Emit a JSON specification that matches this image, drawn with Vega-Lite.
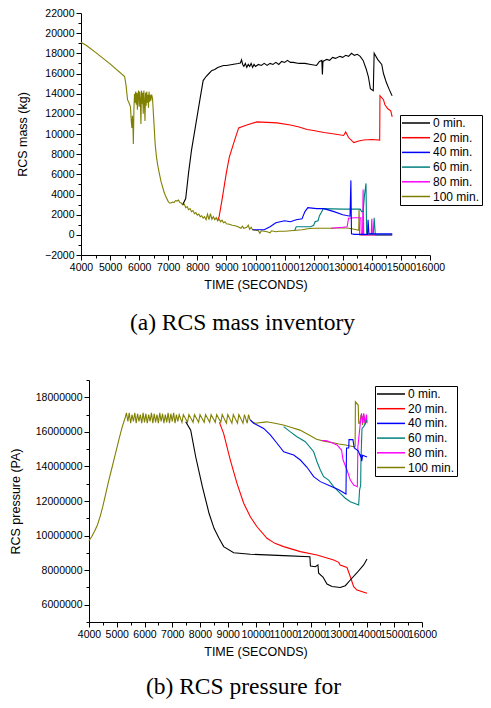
{
"$schema": "https://vega.github.io/schema/vega-lite/v6.json",
"background": "white",
"padding": {"left": 9, "top": 8, "right": 5, "bottom": 5},
"config": {
  "view": {"stroke": null},
  "font": "Liberation Sans",
  "axis": {"labelFont": "Liberation Sans", "labelFontSize": 10.5, "labelColor": "black", "titleFont": "Liberation Sans", "titleFontSize": 12.5, "titleFontWeight": "normal", "titleColor": "black", "domainColor": "black", "tickColor": "black", "labelPadding": 2, "grid": false, "labelFlush": false, "labelOverlap": false},
  "legend": {"labelFont": "Liberation Sans", "labelFontSize": 12, "labelColor": "black", "strokeColor": "black", "fillColor": "white", "padding": 2, "symbolType": "M-1.2,0H4.4", "symbolSize": 100, "symbolStrokeWidth": 1.5, "labelOffset": 19, "rowPadding": 2.7}
},
"datasets": {
"mass": [
{"s":"100 min.","t":4000,"v":19100},{"s":"100 min.","t":4200,"v":18750},{"s":"100 min.","t":4500,"v":18100},{"s":"100 min.","t":5000,"v":16950},{"s":"100 min.","t":5500,"v":15700},{"s":"100 min.","t":5550,"v":14800},{"s":"100 min.","t":5600,"v":13400},{"s":"100 min.","t":5650,"v":13100},{"s":"100 min.","t":5700,"v":12700},{"s":"100 min.","t":5730,"v":11200},{"s":"100 min.","t":5750,"v":10600},{"s":"100 min.","t":5770,"v":11800},{"s":"100 min.","t":5790,"v":10400},{"s":"100 min.","t":5800,"v":9000},{"s":"100 min.","t":5820,"v":12500},{"s":"100 min.","t":5840,"v":14000},{"s":"100 min.","t":5860,"v":13100},{"s":"100 min.","t":5880,"v":14200},{"s":"100 min.","t":5900,"v":12900},{"s":"100 min.","t":5920,"v":14100},{"s":"100 min.","t":5940,"v":12400},{"s":"100 min.","t":5960,"v":13900},{"s":"100 min.","t":5980,"v":14300},{"s":"100 min.","t":6000,"v":12700},{"s":"100 min.","t":6020,"v":14200},{"s":"100 min.","t":6040,"v":13400},{"s":"100 min.","t":6060,"v":11000},{"s":"100 min.","t":6080,"v":14300},{"s":"100 min.","t":6100,"v":13000},{"s":"100 min.","t":6120,"v":14100},{"s":"100 min.","t":6140,"v":12000},{"s":"100 min.","t":6160,"v":14300},{"s":"100 min.","t":6180,"v":13200},{"s":"100 min.","t":6200,"v":11300},{"s":"100 min.","t":6220,"v":14100},{"s":"100 min.","t":6240,"v":12800},{"s":"100 min.","t":6260,"v":14200},{"s":"100 min.","t":6280,"v":13100},{"s":"100 min.","t":6300,"v":13900},{"s":"100 min.","t":6320,"v":12600},{"s":"100 min.","t":6340,"v":14200},{"s":"100 min.","t":6360,"v":13200},{"s":"100 min.","t":6380,"v":13900},{"s":"100 min.","t":6400,"v":13300},{"s":"100 min.","t":6430,"v":13900},{"s":"100 min.","t":6460,"v":13500},{"s":"100 min.","t":6500,"v":11500},{"s":"100 min.","t":6550,"v":9000},{"s":"100 min.","t":6600,"v":7600},{"s":"100 min.","t":6650,"v":6700},{"s":"100 min.","t":6700,"v":6000},{"s":"100 min.","t":6750,"v":5300},{"s":"100 min.","t":6800,"v":4800},{"s":"100 min.","t":6850,"v":4300},{"s":"100 min.","t":6900,"v":3900},{"s":"100 min.","t":6950,"v":3600},{"s":"100 min.","t":7000,"v":3300},{"s":"100 min.","t":7050,"v":3150},{"s":"100 min.","t":7100,"v":3150},{"s":"100 min.","t":7150,"v":3250},{"s":"100 min.","t":7200,"v":3200},{"s":"100 min.","t":7250,"v":3400},{"s":"100 min.","t":7300,"v":3350},{"s":"100 min.","t":7350,"v":3450},{"s":"100 min.","t":7400,"v":3200},{"s":"100 min.","t":7450,"v":3150},{"s":"100 min.","t":7500,"v":2950},{"s":"100 min.","t":7550,"v":3050},{"s":"100 min.","t":7600,"v":2700},{"s":"100 min.","t":7650,"v":2800},{"s":"100 min.","t":7700,"v":2500},{"s":"100 min.","t":7750,"v":2600},{"s":"100 min.","t":7800,"v":2300},{"s":"100 min.","t":7850,"v":2400},{"s":"100 min.","t":7900,"v":2100},{"s":"100 min.","t":7950,"v":2200},{"s":"100 min.","t":8000,"v":1950},{"s":"100 min.","t":8050,"v":2050},{"s":"100 min.","t":8100,"v":1800},{"s":"100 min.","t":8150,"v":1900},{"s":"100 min.","t":8200,"v":1650},{"s":"100 min.","t":8250,"v":1800},{"s":"100 min.","t":8300,"v":1500},{"s":"100 min.","t":8350,"v":2050},{"s":"100 min.","t":8400,"v":1500},{"s":"100 min.","t":8450,"v":2100},{"s":"100 min.","t":8500,"v":1550},{"s":"100 min.","t":8550,"v":1800},{"s":"100 min.","t":8600,"v":1500},{"s":"100 min.","t":8650,"v":1700},{"s":"100 min.","t":8700,"v":1400},{"s":"100 min.","t":8750,"v":1550},{"s":"100 min.","t":8800,"v":1300},{"s":"100 min.","t":8850,"v":1450},{"s":"100 min.","t":8900,"v":1200},{"s":"100 min.","t":8950,"v":1300},{"s":"100 min.","t":9000,"v":1100},{"s":"100 min.","t":9100,"v":1050},{"s":"100 min.","t":9200,"v":950},{"s":"100 min.","t":9300,"v":900},{"s":"100 min.","t":9400,"v":800},{"s":"100 min.","t":9500,"v":650},{"s":"100 min.","t":9550,"v":850},{"s":"100 min.","t":9600,"v":650},{"s":"100 min.","t":9700,"v":750},{"s":"100 min.","t":9750,"v":950},{"s":"100 min.","t":9800,"v":550},{"s":"100 min.","t":9850,"v":750},{"s":"100 min.","t":9900,"v":500},{"s":"100 min.","t":10000,"v":450},{"s":"100 min.","t":10100,"v":400},{"s":"100 min.","t":10150,"v":150},{"s":"100 min.","t":10200,"v":400},{"s":"100 min.","t":10300,"v":350},{"s":"100 min.","t":10400,"v":300},{"s":"100 min.","t":10500,"v":200},{"s":"100 min.","t":10550,"v":400},{"s":"100 min.","t":10700,"v":300},{"s":"100 min.","t":10800,"v":350},{"s":"100 min.","t":11000,"v":350},{"s":"100 min.","t":11200,"v":400},{"s":"100 min.","t":11400,"v":450},{"s":"100 min.","t":11600,"v":500},{"s":"100 min.","t":11800,"v":600},{"s":"100 min.","t":12000,"v":650},{"s":"100 min.","t":12300,"v":650},{"s":"100 min.","t":12600,"v":650},{"s":"100 min.","t":13000,"v":700},{"s":"100 min.","t":13200,"v":650},{"s":"100 min.","t":13400,"v":550},{"s":"100 min.","t":13550,"v":450},{"s":"100 min.","t":13560,"v":2500},{"s":"100 min.","t":13580,"v":0},{"s":"100 min.","t":14700,"v":0},
{"s":"80 min.","t":12600,"v":650},{"s":"80 min.","t":13000,"v":750},{"s":"80 min.","t":13150,"v":800},{"s":"80 min.","t":13200,"v":1650},{"s":"80 min.","t":13400,"v":1700},{"s":"80 min.","t":13620,"v":1700},{"s":"80 min.","t":13640,"v":0},{"s":"80 min.","t":13680,"v":0},{"s":"80 min.","t":13700,"v":4500},{"s":"80 min.","t":13720,"v":0},{"s":"80 min.","t":13980,"v":0},{"s":"80 min.","t":14000,"v":1600},{"s":"80 min.","t":14020,"v":0},{"s":"80 min.","t":14700,"v":0},
{"s":"60 min.","t":11350,"v":450},{"s":"60 min.","t":11400,"v":800},{"s":"60 min.","t":11900,"v":800},{"s":"60 min.","t":12000,"v":950},{"s":"60 min.","t":12050,"v":1300},{"s":"60 min.","t":12150,"v":1400},{"s":"60 min.","t":12200,"v":1900},{"s":"60 min.","t":12300,"v":2400},{"s":"60 min.","t":12320,"v":2600},{"s":"60 min.","t":13000,"v":2550},{"s":"60 min.","t":13600,"v":2550},{"s":"60 min.","t":13650,"v":2300},{"s":"60 min.","t":13700,"v":2300},{"s":"60 min.","t":13750,"v":4000},{"s":"60 min.","t":13800,"v":5100},{"s":"60 min.","t":13820,"v":100},{"s":"60 min.","t":14050,"v":50},{"s":"60 min.","t":14080,"v":1700},{"s":"60 min.","t":14120,"v":0},{"s":"60 min.","t":14700,"v":0},
{"s":"40 min.","t":9900,"v":500},{"s":"40 min.","t":10300,"v":500},{"s":"40 min.","t":10500,"v":800},{"s":"40 min.","t":10700,"v":1200},{"s":"40 min.","t":11000,"v":1400},{"s":"40 min.","t":11200,"v":1300},{"s":"40 min.","t":11400,"v":1500},{"s":"40 min.","t":11600,"v":1600},{"s":"40 min.","t":11700,"v":2300},{"s":"40 min.","t":11800,"v":2700},{"s":"40 min.","t":12100,"v":2600},{"s":"40 min.","t":12350,"v":2600},{"s":"40 min.","t":12700,"v":2300},{"s":"40 min.","t":13000,"v":2000},{"s":"40 min.","t":13250,"v":1850},{"s":"40 min.","t":13280,"v":5400},{"s":"40 min.","t":13300,"v":100},{"s":"40 min.","t":13400,"v":50},{"s":"40 min.","t":13850,"v":50},{"s":"40 min.","t":13870,"v":1500},{"s":"40 min.","t":13900,"v":100},{"s":"40 min.","t":14700,"v":100},
{"s":"20 min.","t":8700,"v":1500},{"s":"20 min.","t":8750,"v":1800},{"s":"20 min.","t":8850,"v":3500},{"s":"20 min.","t":9000,"v":6200},{"s":"20 min.","t":9100,"v":7700},{"s":"20 min.","t":9250,"v":9100},{"s":"20 min.","t":9420,"v":10600},{"s":"20 min.","t":9700,"v":10900},{"s":"20 min.","t":10050,"v":11200},{"s":"20 min.","t":10400,"v":11150},{"s":"20 min.","t":10740,"v":11100},{"s":"20 min.","t":11200,"v":10900},{"s":"20 min.","t":11500,"v":10700},{"s":"20 min.","t":11770,"v":10450},{"s":"20 min.","t":12000,"v":10350},{"s":"20 min.","t":12350,"v":10150},{"s":"20 min.","t":12600,"v":10050},{"s":"20 min.","t":13030,"v":9850},{"s":"20 min.","t":13100,"v":10200},{"s":"20 min.","t":13200,"v":9650},{"s":"20 min.","t":13380,"v":9150},{"s":"20 min.","t":13550,"v":9300},{"s":"20 min.","t":13720,"v":9400},{"s":"20 min.","t":14000,"v":9450},{"s":"20 min.","t":14270,"v":9400},{"s":"20 min.","t":14280,"v":13800},{"s":"20 min.","t":14400,"v":13400},{"s":"20 min.","t":14450,"v":12900},{"s":"20 min.","t":14550,"v":12500},{"s":"20 min.","t":14650,"v":12300},{"s":"20 min.","t":14700,"v":11700},
{"s":"0 min.","t":7500,"v":3000},{"s":"0 min.","t":7600,"v":3600},{"s":"0 min.","t":7700,"v":6200},{"s":"0 min.","t":7800,"v":8400},{"s":"0 min.","t":7950,"v":11000},{"s":"0 min.","t":8100,"v":13600},{"s":"0 min.","t":8200,"v":15300},{"s":"0 min.","t":8300,"v":15700},{"s":"0 min.","t":8400,"v":16000},{"s":"0 min.","t":8500,"v":16300},{"s":"0 min.","t":8600,"v":16400},{"s":"0 min.","t":8700,"v":16600},{"s":"0 min.","t":8800,"v":16700},{"s":"0 min.","t":8900,"v":16800},{"s":"0 min.","t":9000,"v":16800},{"s":"0 min.","t":9200,"v":16900},{"s":"0 min.","t":9400,"v":17000},{"s":"0 min.","t":9480,"v":17050},{"s":"0 min.","t":9520,"v":17350},{"s":"0 min.","t":9560,"v":16900},{"s":"0 min.","t":9600,"v":16700},{"s":"0 min.","t":9650,"v":17000},{"s":"0 min.","t":9700,"v":16600},{"s":"0 min.","t":9750,"v":16900},{"s":"0 min.","t":9800,"v":16700},{"s":"0 min.","t":9850,"v":17000},{"s":"0 min.","t":9900,"v":16600},{"s":"0 min.","t":9950,"v":16900},{"s":"0 min.","t":10000,"v":16700},{"s":"0 min.","t":10100,"v":16900},{"s":"0 min.","t":10200,"v":16800},{"s":"0 min.","t":10300,"v":17000},{"s":"0 min.","t":10400,"v":16800},{"s":"0 min.","t":10500,"v":17000},{"s":"0 min.","t":10600,"v":16900},{"s":"0 min.","t":10700,"v":17100},{"s":"0 min.","t":10800,"v":16900},{"s":"0 min.","t":10900,"v":17200},{"s":"0 min.","t":11000,"v":17100},{"s":"0 min.","t":11100,"v":17300},{"s":"0 min.","t":11200,"v":17100},{"s":"0 min.","t":11300,"v":17100},{"s":"0 min.","t":11500,"v":17000},{"s":"0 min.","t":11700,"v":17000},{"s":"0 min.","t":11900,"v":16900},{"s":"0 min.","t":12100,"v":16800},{"s":"0 min.","t":12200,"v":17200},{"s":"0 min.","t":12280,"v":17300},{"s":"0 min.","t":12300,"v":15900},{"s":"0 min.","t":12320,"v":17200},{"s":"0 min.","t":12450,"v":17400},{"s":"0 min.","t":12550,"v":17300},{"s":"0 min.","t":12650,"v":17600},{"s":"0 min.","t":12750,"v":17500},{"s":"0 min.","t":12900,"v":17700},{"s":"0 min.","t":13000,"v":17600},{"s":"0 min.","t":13100,"v":17800},{"s":"0 min.","t":13200,"v":17700},{"s":"0 min.","t":13300,"v":18000},{"s":"0 min.","t":13400,"v":17800},{"s":"0 min.","t":13500,"v":17900},{"s":"0 min.","t":13600,"v":17700},{"s":"0 min.","t":13700,"v":17300},{"s":"0 min.","t":13800,"v":16500},{"s":"0 min.","t":13880,"v":15700},{"s":"0 min.","t":13950,"v":14500},{"s":"0 min.","t":14050,"v":14300},{"s":"0 min.","t":14080,"v":18000},{"s":"0 min.","t":14200,"v":17400},{"s":"0 min.","t":14340,"v":16900},{"s":"0 min.","t":14400,"v":16000},{"s":"0 min.","t":14500,"v":15100},{"s":"0 min.","t":14600,"v":14400},{"s":"0 min.","t":14680,"v":13900},{"s":"0 min.","t":14700,"v":13800}
],
"pressure": [
{"s":"100 min.","t":4000,"v":9700000},{"s":"100 min.","t":4100,"v":9950000},{"s":"100 min.","t":4200,"v":10250000},{"s":"100 min.","t":4300,"v":10600000},{"s":"100 min.","t":4400,"v":11100000},{"s":"100 min.","t":4500,"v":11700000},{"s":"100 min.","t":4600,"v":12400000},{"s":"100 min.","t":4700,"v":13100000},{"s":"100 min.","t":4800,"v":13750000},{"s":"100 min.","t":4900,"v":14400000},{"s":"100 min.","t":5000,"v":15050000},{"s":"100 min.","t":5100,"v":15700000},{"s":"100 min.","t":5200,"v":16300000},{"s":"100 min.","t":5300,"v":16800000},{"s":"100 min.","t":5350,"v":17100000},
{"s":"100 min.","t":5400,"v":16600000},{"s":"100 min.","t":5450,"v":17100000},{"s":"100 min.","t":5500,"v":16500000},{"s":"100 min.","t":5550,"v":17000000},{"s":"100 min.","t":5600,"v":16600000},{"s":"100 min.","t":5650,"v":17100000},{"s":"100 min.","t":5700,"v":16500000},{"s":"100 min.","t":5750,"v":17050000},{"s":"100 min.","t":5800,"v":16600000},{"s":"100 min.","t":5850,"v":17000000},{"s":"100 min.","t":5900,"v":16500000},{"s":"100 min.","t":5950,"v":17100000},{"s":"100 min.","t":6000,"v":16550000},{"s":"100 min.","t":6050,"v":17050000},{"s":"100 min.","t":6100,"v":16500000},{"s":"100 min.","t":6150,"v":17000000},{"s":"100 min.","t":6200,"v":16600000},{"s":"100 min.","t":6250,"v":17100000},{"s":"100 min.","t":6300,"v":16500000},{"s":"100 min.","t":6350,"v":17050000},{"s":"100 min.","t":6400,"v":16550000},{"s":"100 min.","t":6450,"v":17000000},{"s":"100 min.","t":6500,"v":16500000},{"s":"100 min.","t":6550,"v":17100000},{"s":"100 min.","t":6600,"v":16600000},{"s":"100 min.","t":6650,"v":17050000},{"s":"100 min.","t":6700,"v":16500000},{"s":"100 min.","t":6750,"v":17000000},{"s":"100 min.","t":6800,"v":16550000},{"s":"100 min.","t":6850,"v":17100000},{"s":"100 min.","t":6900,"v":16500000},{"s":"100 min.","t":6950,"v":17050000},{"s":"100 min.","t":7000,"v":16600000},{"s":"100 min.","t":7050,"v":17100000},{"s":"100 min.","t":7100,"v":16500000},{"s":"100 min.","t":7150,"v":17000000},{"s":"100 min.","t":7200,"v":16600000},
{"s":"100 min.","t":7250,"v":17000000},{"s":"100 min.","t":7350,"v":16550000},{"s":"100 min.","t":7400,"v":17000000},{"s":"100 min.","t":7550,"v":16550000},{"s":"100 min.","t":7600,"v":17000000},{"s":"100 min.","t":7750,"v":16550000},{"s":"100 min.","t":7800,"v":17000000},{"s":"100 min.","t":7950,"v":16550000},{"s":"100 min.","t":8000,"v":17000000},{"s":"100 min.","t":8150,"v":16550000},{"s":"100 min.","t":8200,"v":17000000},{"s":"100 min.","t":8350,"v":16550000},{"s":"100 min.","t":8400,"v":17000000},{"s":"100 min.","t":8550,"v":16550000},{"s":"100 min.","t":8600,"v":17000000},{"s":"100 min.","t":8750,"v":16550000},{"s":"100 min.","t":8800,"v":17000000},{"s":"100 min.","t":8950,"v":16500000},{"s":"100 min.","t":9000,"v":17000000},{"s":"100 min.","t":9150,"v":16500000},{"s":"100 min.","t":9200,"v":17000000},{"s":"100 min.","t":9350,"v":16500000},{"s":"100 min.","t":9400,"v":17000000},{"s":"100 min.","t":9550,"v":16500000},{"s":"100 min.","t":9600,"v":17000000},{"s":"100 min.","t":9700,"v":16500000},{"s":"100 min.","t":9750,"v":17000000},{"s":"100 min.","t":9800,"v":16700000},
{"s":"100 min.","t":9900,"v":16550000},{"s":"100 min.","t":10000,"v":16500000},{"s":"100 min.","t":10400,"v":16580000},{"s":"100 min.","t":10700,"v":16500000},{"s":"100 min.","t":11000,"v":16400000},{"s":"100 min.","t":11300,"v":16250000},{"s":"100 min.","t":11600,"v":16100000},{"s":"100 min.","t":11900,"v":15850000},{"s":"100 min.","t":12200,"v":15570000},{"s":"100 min.","t":12500,"v":15450000},{"s":"100 min.","t":12800,"v":15370000},{"s":"100 min.","t":13000,"v":15300000},{"s":"100 min.","t":13240,"v":15240000},{"s":"100 min.","t":13540,"v":15140000},{"s":"100 min.","t":13590,"v":15140000},{"s":"100 min.","t":13600,"v":17740000},{"s":"100 min.","t":13700,"v":17550000},{"s":"100 min.","t":13720,"v":16500000},{"s":"100 min.","t":13760,"v":16500000},{"s":"100 min.","t":13800,"v":16950000},{"s":"100 min.","t":13840,"v":16900000},{"s":"100 min.","t":13860,"v":16400000},{"s":"100 min.","t":13900,"v":17000000},{"s":"100 min.","t":13950,"v":16450000},{"s":"100 min.","t":14000,"v":16600000},
{"s":"80 min.","t":12400,"v":15500000},{"s":"80 min.","t":12576,"v":15480000},{"s":"80 min.","t":12937,"v":15240000},{"s":"80 min.","t":13100,"v":14950000},{"s":"80 min.","t":13157,"v":14370000},{"s":"80 min.","t":13297,"v":13790000},{"s":"80 min.","t":13417,"v":13210000},{"s":"80 min.","t":13538,"v":12920000},{"s":"80 min.","t":13670,"v":12830000},{"s":"80 min.","t":13690,"v":15140000},{"s":"80 min.","t":13777,"v":16500000},{"s":"80 min.","t":13820,"v":17070000},{"s":"80 min.","t":13860,"v":16500000},{"s":"80 min.","t":13900,"v":17070000},{"s":"80 min.","t":13950,"v":16500000},{"s":"80 min.","t":14000,"v":17000000},{"s":"80 min.","t":14020,"v":16500000},
{"s":"60 min.","t":11016,"v":16300000},{"s":"60 min.","t":11256,"v":16000000},{"s":"60 min.","t":11495,"v":15720000},{"s":"60 min.","t":11796,"v":15430000},{"s":"60 min.","t":12096,"v":14850000},{"s":"60 min.","t":12216,"v":14270000},{"s":"60 min.","t":12336,"v":13790000},{"s":"60 min.","t":12456,"v":13410000},{"s":"60 min.","t":12636,"v":13210000},{"s":"60 min.","t":12816,"v":12830000},{"s":"60 min.","t":13056,"v":12440000},{"s":"60 min.","t":13237,"v":12160000},{"s":"60 min.","t":13417,"v":11960000},{"s":"60 min.","t":13718,"v":11770000},{"s":"60 min.","t":13750,"v":12640000},{"s":"60 min.","t":13790,"v":12900000},{"s":"60 min.","t":13800,"v":14370000},{"s":"60 min.","t":13838,"v":16200000},{"s":"60 min.","t":13900,"v":16300000},{"s":"60 min.","t":14018,"v":16690000},
{"s":"40 min.","t":9813,"v":16690000},{"s":"40 min.","t":9934,"v":16500000},{"s":"40 min.","t":10294,"v":16200000},{"s":"40 min.","t":10534,"v":15820000},{"s":"40 min.","t":10775,"v":15340000},{"s":"40 min.","t":11016,"v":14850000},{"s":"40 min.","t":11376,"v":14660000},{"s":"40 min.","t":11616,"v":14370000},{"s":"40 min.","t":11856,"v":13950000},{"s":"40 min.","t":12096,"v":13410000},{"s":"40 min.","t":12336,"v":13120000},{"s":"40 min.","t":12696,"v":12870000},{"s":"40 min.","t":13000,"v":12650000},{"s":"40 min.","t":13260,"v":12400000},{"s":"40 min.","t":13280,"v":15070000},{"s":"40 min.","t":13360,"v":15070000},{"s":"40 min.","t":13370,"v":15550000},{"s":"40 min.","t":13510,"v":15550000},{"s":"40 min.","t":13560,"v":15070000},{"s":"40 min.","t":13700,"v":14900000},{"s":"40 min.","t":13780,"v":14600000},{"s":"40 min.","t":13800,"v":14700000},{"s":"40 min.","t":13830,"v":14300000},{"s":"40 min.","t":13860,"v":14650000},{"s":"40 min.","t":14020,"v":14550000},
{"s":"20 min.","t":8700,"v":16550000},{"s":"20 min.","t":8853,"v":15900000},{"s":"20 min.","t":9093,"v":14370000},{"s":"20 min.","t":9333,"v":13020000},{"s":"20 min.","t":9574,"v":11870000},{"s":"20 min.","t":9813,"v":11090000},{"s":"20 min.","t":10054,"v":10510000},{"s":"20 min.","t":10414,"v":9840000},{"s":"20 min.","t":10700,"v":9550000},{"s":"20 min.","t":11016,"v":9360000},{"s":"20 min.","t":11616,"v":9070000},{"s":"20 min.","t":12216,"v":8880000},{"s":"20 min.","t":12818,"v":8590000},{"s":"20 min.","t":12998,"v":8450000},{"s":"20 min.","t":13050,"v":8300000},{"s":"20 min.","t":13297,"v":8150000},{"s":"20 min.","t":13417,"v":7620000},{"s":"20 min.","t":13538,"v":7040000},{"s":"20 min.","t":13658,"v":6850000},{"s":"20 min.","t":14018,"v":6660000},
{"s":"0 min.","t":7485,"v":16590000},{"s":"0 min.","t":7665,"v":16100000},{"s":"0 min.","t":7845,"v":14560000},{"s":"0 min.","t":8085,"v":12830000},{"s":"0 min.","t":8325,"v":11290000},{"s":"0 min.","t":8505,"v":10420000},{"s":"0 min.","t":8685,"v":9840000},{"s":"0 min.","t":8853,"v":9360000},{"s":"0 min.","t":9214,"v":9010000},{"s":"0 min.","t":9813,"v":8920000},{"s":"0 min.","t":11016,"v":8840000},{"s":"0 min.","t":11960,"v":8780000},{"s":"0 min.","t":11980,"v":8240000},{"s":"0 min.","t":12156,"v":8200000},{"s":"0 min.","t":12250,"v":8300000},{"s":"0 min.","t":12276,"v":7820000},{"s":"0 min.","t":12432,"v":7600000},{"s":"0 min.","t":12576,"v":7200000},{"s":"0 min.","t":12757,"v":7050000},{"s":"0 min.","t":13056,"v":7000000},{"s":"0 min.","t":13237,"v":7100000},{"s":"0 min.","t":13417,"v":7430000},{"s":"0 min.","t":13658,"v":7850000},{"s":"0 min.","t":13898,"v":8300000},{"s":"0 min.","t":14018,"v":8640000}
]
},
"vconcat": [
{
  "width": 349, "height": 242,
  "title": {"text": "(a) RCS mass inventory", "orient": "bottom", "font": "Liberation Serif", "fontSize": 23.5, "fontWeight": "normal", "color": "black", "offset": 20, "dx": -13},
  "data": {"name": "mass"},
  "mark": {"type": "line", "strokeWidth": 1.1},
  "encoding": {
    "x": {"field": "t", "type": "quantitative", "scale": {"domain": [4000, 16000], "nice": false},
      "axis": {"title": "TIME (SECONDS)", "titlePadding": 6, "format": "d", "values": [4000,4500,5000,5500,6000,6500,7000,7500,8000,8500,9000,9500,10000,10500,11000,11500,12000,12500,13000,13500,14000,14500,15000,15500,16000],
        "labelExpr": "datum.value % 1000 === 0 ? datum.label : ''",
        "tickSize": {"condition": {"test": "datum.value % 1000 === 0", "value": 5}, "value": 3}}},
    "y": {"field": "v", "type": "quantitative", "scale": {"domain": [-2000, 22000], "nice": false, "zero": false},
      "axis": {"title": "RCS mass (kg)", "titlePadding": 15, "format": "d", "values": [-2000,-1000,0,1000,2000,3000,4000,5000,6000,7000,8000,9000,10000,11000,12000,13000,14000,15000,16000,17000,18000,19000,20000,21000,22000],
        "labelExpr": "datum.value % 2000 === 0 ? datum.label : ''",
        "tickSize": {"condition": {"test": "datum.value % 2000 === 0", "value": 5}, "value": 3}}},
    "color": {"field": "s", "type": "nominal",
      "scale": {"domain": ["0 min.","20 min.","40 min.","60 min.","80 min.","100 min."], "range": ["#000000","#ff0000","#0000ff","#008080","#ff00ff","#808000"]},
      "legend": {"title": null, "orient": "none", "legendX": 319, "legendY": 102}}
  }
},
{
  "width": 333, "height": 242,
  "title": {"text": "(b) RCS pressure for", "orient": "bottom", "font": "Liberation Serif", "fontSize": 23.5, "fontWeight": "normal", "color": "black", "offset": 17, "dx": -12},
  "data": {"name": "pressure"},
  "mark": {"type": "line", "strokeWidth": 1.1},
  "encoding": {
    "x": {"field": "t", "type": "quantitative", "scale": {"domain": [4000, 16000], "nice": false},
      "axis": {"title": "TIME (SECONDS)", "titlePadding": 6, "format": "d", "values": [4000,4500,5000,5500,6000,6500,7000,7500,8000,8500,9000,9500,10000,10500,11000,11500,12000,12500,13000,13500,14000,14500,15000,15500,16000],
        "labelExpr": "datum.value % 1000 === 0 ? datum.label : ''",
        "tickSize": {"condition": {"test": "datum.value % 1000 === 0", "value": 5}, "value": 3}}},
    "y": {"field": "v", "type": "quantitative", "scale": {"domain": [5000000, 19000000], "nice": false, "zero": false},
      "axis": {"title": "RCS pressure (PA)", "titlePadding": 13, "format": "d", "values": [5000000,6000000,7000000,8000000,9000000,10000000,11000000,12000000,13000000,14000000,15000000,16000000,17000000,18000000,19000000],
        "labelExpr": "datum.value % 2000000 === 0 ? datum.label : ''",
        "tickSize": {"condition": {"test": "datum.value % 2000000 === 0", "value": 5}, "value": 3}}},
    "color": {"field": "s", "type": "nominal",
      "scale": {"domain": ["0 min.","20 min.","40 min.","60 min.","80 min.","100 min."], "range": ["#000000","#ff0000","#0000ff","#008080","#ff00ff","#808000"]},
      "legend": {"title": null, "orient": "none", "legendX": 286, "legendY": 6}}
  }
}
],
"spacing": 125,
"center": true,
"bounds": "flush",
"resolve": {"scale": {"color": "independent"}, "legend": {"color": "independent"}}
}
